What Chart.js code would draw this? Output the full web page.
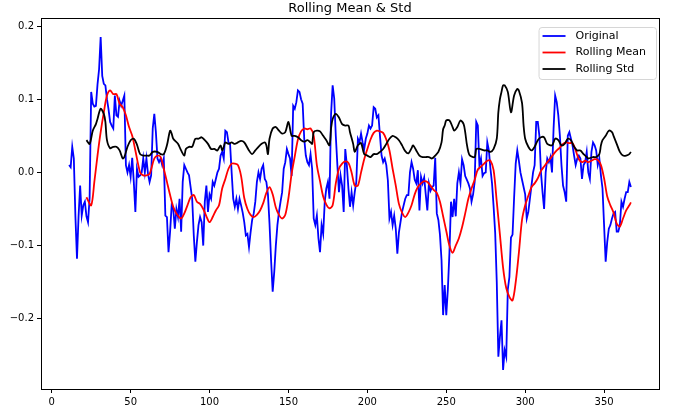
<!DOCTYPE html>
<html>
<head>
<meta charset="utf-8">
<script src="https://cdn.jsdelivr.net/npm/chart.js@4.4.1/dist/chart.umd.min.js"></script>
<style>
  html, body { margin: 0; padding: 0; background: #fff; }
  #wrap { width: 678px; height: 419px; }
</style>
</head>
<body>
<div id="wrap"><canvas id="rollingChart" width="678" height="419"></canvas></div>
<script>
// Chart data
const titleText = 'Rolling Mean & Std';
const seriesLabels = ['Original', 'Rolling Mean', 'Rolling Std'];

const firstDay = 11;
const originalValues = [
  0.010, 0.007, 0.035, 0.019, -0.060, -0.118, -0.060, -0.018, -0.059, -0.045,
  -0.040, -0.060, -0.068, -0.035, 0.110, 0.094, 0.090, 0.091, 0.120, 0.141,
  0.185, 0.132, 0.121, 0.119, 0.100, 0.086, 0.069, 0.064, 0.060, 0.105,
  0.078, 0.076, 0.098, 0.091, 0.098, 0.105, 0.010, 0.000, 0.010, -0.006,
  0.020, -0.013, -0.054, 0.005, -0.006, -0.004, 0.000, 0.019, 0.000, 0.019,
  -0.002, -0.013, -0.004, 0.060, 0.080, 0.055, 0.019, 0.014, 0.019, 0.010,
  0.019, -0.059, -0.061, -0.109, -0.081, -0.045, -0.050, -0.077, -0.050, -0.061,
  -0.036, -0.081, -0.013, 0.010, 0.005, 0.000, -0.004, -0.020, -0.036, -0.086,
  -0.122, -0.095, -0.072, -0.061, -0.068, -0.100, -0.040, -0.018, -0.054, -0.030,
  -0.036, -0.013, -0.018, -0.009, 0.000, 0.005, 0.023, 0.028, 0.019, 0.057,
  0.055, 0.041, 0.039, 0.000, -0.036, -0.047, -0.036, -0.050, -0.036, -0.045,
  -0.055, -0.068, -0.086, -0.084, -0.102, -0.082, -0.065, -0.056, -0.040, -0.013,
  0.000, -0.009, 0.005, 0.010, -0.009, -0.013, -0.030, -0.070, -0.120, -0.163,
  -0.136, -0.100, -0.072, -0.054, -0.040, -0.027, 0.005, 0.014, 0.032, 0.025,
  0.019, -0.005, 0.091, 0.087, 0.096, 0.112, 0.110, 0.100, 0.094, 0.046,
  0.023, 0.014, 0.010, 0.025, 0.005, -0.063, -0.072, -0.059, -0.090, -0.109,
  -0.072, -0.084, -0.040, -0.022, -0.013, -0.036, 0.080, 0.119, 0.101, 0.050,
  0.010, -0.027, -0.004, -0.018, -0.054, 0.032, 0.010, -0.022, -0.047, -0.027,
  -0.045, -0.027, -0.013, 0.046, 0.041, 0.053, 0.041, 0.032, 0.046, 0.053,
  0.064, 0.060, 0.064, 0.089, 0.087, 0.075, 0.078, 0.050, 0.023, 0.014,
  0.019, 0.010, -0.011, -0.063, -0.054, -0.072, -0.059, -0.077, -0.111, -0.082,
  -0.068, -0.054, -0.045, -0.036, -0.031, -0.031, 0.000, 0.014, 0.005, -0.010,
  -0.015, 0.003, -0.052, -0.006, -0.015, -0.007, -0.030, -0.052, -0.015, -0.025,
  -0.020, -0.018, 0.020, -0.056, -0.065, -0.085, -0.120, -0.195, -0.154, -0.195,
  -0.160, -0.110, -0.040, -0.061, -0.036, -0.060, -0.015, 0.000, -0.015, 0.018,
  0.010, -0.005, -0.010, -0.015, -0.022, -0.040, -0.030, -0.013, 0.069, 0.064,
  0.010, 0.019, -0.005, -0.001, 0.000, 0.041, 0.030, 0.005, -0.015, -0.047,
  -0.083, -0.150, -0.252, -0.225, -0.202, -0.270, -0.243, -0.252, -0.160, -0.143,
  -0.089, -0.085, -0.034, 0.012, 0.030, 0.016, 0.000, -0.010, -0.020, -0.030,
  -0.063, -0.054, -0.036, -0.018, 0.000, 0.010, 0.069, 0.069, 0.050, 0.000,
  -0.027, -0.050, 0.000, 0.019, 0.014, 0.021, 0.000, 0.060, 0.105, 0.096,
  0.078, 0.050, 0.010, -0.018, -0.027, -0.040, 0.050, 0.055, 0.046, 0.037,
  0.023, 0.010, 0.019, 0.023, 0.019, -0.009, 0.010, 0.014, 0.028, 0.000,
  -0.009, 0.028, 0.041, 0.037, 0.030, 0.010, 0.019, -0.004, -0.022, -0.072,
  -0.122, -0.095, -0.077, -0.072, -0.063, -0.056, -0.054, -0.081, -0.081, -0.072,
  -0.040, -0.047, -0.036, -0.027, -0.027, -0.013, -0.020
];
const originalDays = originalValues.map((_, i) => firstDay + i);

const meanDays = [
  22, 25, 27, 29, 31, 33, 35, 37, 39, 41, 43, 45, 47, 49, 51, 53, 56, 58, 60, 62,
  65, 67, 69, 71, 73, 75, 77, 79, 82, 84, 86, 88, 90, 92, 94, 96, 98, 100, 102, 104,
  106, 108, 110, 112, 114, 116, 118, 120, 122, 124, 126, 128, 130, 132, 134, 136, 138, 140, 142, 144,
  146, 148, 150, 152, 154, 156, 158, 160, 162, 164, 166, 168, 170, 172, 174, 176, 178, 180, 182, 184,
  186, 188, 190, 192, 194, 196, 198, 200, 202, 204, 206, 208, 210, 212, 214, 216, 218, 220, 222, 224,
  226, 228, 230, 232, 234, 236, 238, 240, 242, 244, 246, 248, 250, 252, 254, 256, 258, 260, 262, 264,
  266, 268, 270, 272, 274, 276, 278, 280, 282, 284, 286, 288, 290, 292, 294, 296, 298, 300, 302, 304,
  306, 308, 310, 312, 314, 316, 318, 320, 322, 324, 326, 328, 330, 332, 334, 336, 338, 340, 342, 344,
  346, 348, 350, 352, 354, 356, 358, 360, 362, 364, 366, 367
];
const meanValues = [
  -0.034, -0.045, -0.013, 0.023, 0.055, 0.082, 0.105, 0.112, 0.107, 0.107, 0.094, 0.089, 0.078, 0.062, 0.050, 0.030, 0.000, -0.004, -0.004, -0.002,
  0.019, 0.023, 0.021, 0.005, -0.013, -0.031, -0.047, -0.056, -0.063, -0.056, -0.045, -0.034, -0.031, -0.040, -0.043, -0.050, -0.060, -0.068, -0.061, -0.052,
  -0.045, -0.022, -0.009, 0.005, 0.012, 0.012, 0.010, -0.005, -0.035, -0.050, -0.058, -0.061, -0.058, -0.052, -0.042, -0.028, -0.020, -0.030, -0.048, -0.058,
  -0.063, -0.058, -0.035, -0.002, 0.022, 0.045, 0.056, 0.060, 0.059, 0.060, 0.050, 0.010, -0.012, -0.033, -0.044, -0.049, -0.045, -0.015, 0.005, 0.012,
  0.015, 0.013, 0.000, -0.018, -0.018, 0.000, 0.018, 0.032, 0.045, 0.054, 0.057, 0.056, 0.054, 0.045, 0.030, 0.005, -0.018, -0.043, -0.055, -0.061,
  -0.055, -0.045, -0.030, -0.020, -0.015, -0.012, -0.013, -0.018, -0.024, -0.028, -0.040, -0.060, -0.080, -0.100, -0.110, -0.100, -0.090, -0.075, -0.056, -0.036,
  -0.022, -0.010, 0.004, 0.008, 0.012, 0.016, 0.016, 0.003, -0.040, -0.085, -0.130, -0.158, -0.170, -0.175, -0.150, -0.110, -0.065, -0.045, -0.032, -0.020,
  -0.015, -0.008, 0.002, 0.008, 0.014, 0.019, 0.025, 0.030, 0.034, 0.039, 0.041, 0.040, 0.040, 0.030, 0.018, 0.014, 0.016, 0.014, 0.016, 0.018,
  0.017, 0.010, -0.008, -0.033, -0.045, -0.055, -0.070, -0.074, -0.063, -0.052, -0.045, -0.041
];

const stdDays = [
  22, 24, 26, 28, 29, 31, 33, 34, 35, 37, 39, 41, 43, 45, 46, 48, 50, 52, 54, 56,
  58, 60, 62, 64, 67, 69, 71, 73, 75, 76, 77, 80, 82, 84, 85, 87, 89, 91, 93, 95,
  97, 99, 101, 103, 105, 107, 108, 109, 110, 112, 114, 116, 118, 120, 122, 125, 127, 129, 131, 133,
  135, 136, 137, 138, 140, 142, 144, 146, 148, 150, 152, 154, 156, 158, 160, 162, 164, 165, 166, 168,
  170, 172, 174, 176, 177, 178, 180, 182, 184, 186, 188, 189, 191, 192, 194, 196, 198, 200, 202, 204,
  206, 208, 210, 212, 214, 216, 218, 220, 222, 224, 226, 228, 229, 231, 233, 235, 237, 239, 241, 243,
  245, 247, 248, 249, 250, 252, 254, 255, 257, 259, 261, 262, 263, 264, 265, 268, 269, 271, 274, 276,
  278, 280, 282, 283, 284, 285, 286, 287, 289, 291, 293, 295, 296, 298, 299, 300, 302, 304, 306, 308,
  310, 312, 314, 317, 319, 321, 323, 325, 327, 329, 331, 333, 335, 337, 339, 340, 343, 345, 347, 348,
  349, 351, 353, 355, 356, 358, 360, 362, 364, 366, 367
];
const stdValues = [
  0.044, 0.039, 0.057, 0.066, 0.073, 0.087, 0.080, 0.069, 0.044, 0.033, 0.035, 0.035, 0.030, 0.019, 0.021, 0.035, 0.044, 0.046, 0.038, 0.025,
  0.023, 0.023, 0.023, 0.028, 0.028, 0.025, 0.025, 0.037, 0.057, 0.053, 0.046, 0.039, 0.030, 0.023, 0.032, 0.035, 0.035, 0.046, 0.046, 0.048,
  0.044, 0.039, 0.032, 0.032, 0.030, 0.037, 0.030, 0.035, 0.041, 0.039, 0.041, 0.039, 0.041, 0.043, 0.041, 0.030, 0.025, 0.030, 0.035, 0.039,
  0.041, 0.037, 0.025, 0.046, 0.060, 0.062, 0.057, 0.053, 0.055, 0.069, 0.050, 0.050, 0.048, 0.044, 0.042, 0.044, 0.041, 0.039, 0.055, 0.057,
  0.056, 0.050, 0.044, 0.037, 0.060, 0.073, 0.080, 0.075, 0.066, 0.064, 0.064, 0.055, 0.039, 0.028, 0.037, 0.040, 0.025, 0.023, 0.021, 0.025,
  0.025, 0.028, 0.032, 0.039, 0.046, 0.050, 0.048, 0.044, 0.037, 0.029, 0.026, 0.033, 0.037, 0.030, 0.023, 0.021, 0.021, 0.021, 0.019, 0.023,
  0.028, 0.041, 0.059, 0.064, 0.071, 0.071, 0.062, 0.057, 0.062, 0.071, 0.066, 0.055, 0.039, 0.028, 0.023, 0.021, 0.032, 0.032, 0.030, 0.030,
  0.028, 0.032, 0.046, 0.082, 0.100, 0.110, 0.119, 0.119, 0.110, 0.082, 0.105, 0.114, 0.112, 0.095, 0.064, 0.046, 0.035, 0.030, 0.035, 0.044,
  0.048, 0.048, 0.039, 0.037, 0.046, 0.044, 0.037, 0.039, 0.046, 0.044, 0.035, 0.030, 0.030, 0.025, 0.021, 0.019, 0.021, 0.021, 0.025, 0.037,
  0.044, 0.050, 0.057, 0.055, 0.050, 0.039, 0.028, 0.023, 0.023, 0.025, 0.028
];

const xTicks = [0, 50, 100, 150, 200, 250, 300, 350];
const yTicks = [-0.2, -0.1, 0.0, 0.1, 0.2];
const yTickLabels = ['\u22120.2', '\u22120.1', '0.0', '0.1', '0.2'];

const toPoints = (xs, ys) => xs.map((x, i) => ({ x: x, y: ys[i] }));

// Frame, title and matplotlib-style legend
const decorPlugin = {
    id: 'decor',
    afterDraw(chart) {
        const { ctx, chartArea: a } = chart;
        ctx.save();

        ctx.strokeStyle = '#000';
        ctx.lineWidth = 1;
        ctx.strokeRect(Math.round(a.left) + 0.5, Math.round(a.top) + 0.5,
            Math.round(a.right - a.left), Math.round(a.bottom - a.top));

        ctx.fillStyle = '#000';
        ctx.font = '13px "DejaVu Sans"';
        ctx.textAlign = 'center';
        ctx.textBaseline = 'middle';
        ctx.fillText(titleText, (a.left + a.right) / 2, 9);

        // legend box in the upper right corner
        const sets = chart.data.datasets;
        ctx.font = '11px "DejaVu Sans"';
        const textW = Math.max(...sets.map(d => ctx.measureText(d.label).width));
        const boxW = 8 + 23 + 10 + textW + 6;
        const boxH = 52;
        const boxR = a.right - 3;
        const boxL = boxR - boxW;
        const boxT = a.top + 9;

        ctx.beginPath();
        ctx.roundRect(boxL + 0.5, boxT + 0.5, boxW, boxH, 3);
        ctx.fillStyle = 'rgba(255,255,255,0.8)';
        ctx.fill();
        ctx.strokeStyle = '#d6d6d6';
        ctx.stroke();

        ctx.textAlign = 'left';
        sets.forEach((d, i) => {
            const y = boxT + 9 + i * 16.5;
            ctx.beginPath();
            ctx.moveTo(boxL + 4, y);
            ctx.lineTo(boxL + 27, y);
            ctx.strokeStyle = d.borderColor;
            ctx.lineWidth = 1.8;
            ctx.stroke();
            ctx.fillStyle = '#000';
            ctx.fillText(d.label, boxL + 37, y);
        });
        ctx.restore();
    }
};

const tickFont = { family: 'DejaVu Sans', size: 10 };

new Chart(document.getElementById('rollingChart'), {
    type: 'line',
    data: {
        datasets: [{
            label: seriesLabels[0],
            data: toPoints(originalDays, originalValues),
            borderColor: '#0000ff',
            borderWidth: 1.8,
            pointRadius: 0,
            tension: 0,
            order: 3
        }, {
            label: seriesLabels[1],
            data: toPoints(meanDays, meanValues),
            borderColor: '#ff0000',
            borderWidth: 1.8,
            pointRadius: 0,
            tension: 0.3,
            order: 2
        }, {
            label: seriesLabels[2],
            data: toPoints(stdDays, stdValues),
            borderColor: '#000000',
            borderWidth: 1.8,
            pointRadius: 0,
            tension: 0.3,
            order: 1
        }]
    },
    options: {
        responsive: false,
        animation: false,
        events: [],
        layout: {
            padding: { top: 18, right: 19, left: 0, bottom: 0 }
        },
        plugins: {
            legend: { display: false },
            title: { display: false },
            tooltip: { enabled: false }
        },
        scales: {
            x: {
                type: 'linear',
                min: -6.8,
                max: 384.8,
                afterBuildTicks: axis => { axis.ticks = xTicks.map(v => ({ value: v })); },
                afterFit: axis => { axis.height = 30; },
                grid: {
                    drawOnChartArea: false,
                    drawTicks: true,
                    tickLength: 4,
                    color: '#000'
                },
                border: { display: true, color: '#000' },
                ticks: {
                    autoSkip: false,
                    maxRotation: 0,
                    padding: 3,
                    color: '#000',
                    font: tickFont
                }
            },
            y: {
                type: 'linear',
                min: -0.296,
                max: 0.211,
                afterBuildTicks: axis => { axis.ticks = yTicks.map(v => ({ value: v })); },
                afterFit: axis => { axis.width = 41; },
                grid: {
                    drawOnChartArea: false,
                    drawTicks: true,
                    tickLength: 4,
                    color: '#000'
                },
                border: { display: true, color: '#000' },
                ticks: {
                    autoSkip: false,
                    padding: 3,
                    color: '#000',
                    font: tickFont,
                    callback: value => yTickLabels[yTicks.indexOf(value)]
                }
            }
        }
    },
    plugins: [decorPlugin]
});
</script>
</body>
</html>
